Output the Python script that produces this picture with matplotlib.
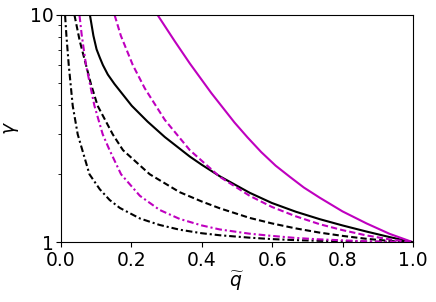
import numpy as np
from matplotlib import pyplot as plt
from matplotlib.ticker import LogLocator, NullFormatter

# curve readings (q tilde, gamma)
q_k_solid = [0.077, 0.082, 0.092, 0.101, 0.11, 0.119, 0.133, 0.152, 0.201, 0.246, 0.295, 0.366, 0.40, 0.451, 0.536, 0.599, 0.667, 0.735, 0.80, 0.868, 0.934, 1.0]
g_k_solid = [11.3, 10.0, 8.09, 7.05, 6.49, 6.01, 5.46, 4.96, 3.98, 3.39, 2.90, 2.38, 2.19, 1.95, 1.65, 1.488, 1.362, 1.263, 1.185, 1.114, 1.053, 1.0]

q_m_solid = [0.25, 0.274, 0.323, 0.366, 0.427, 0.493, 0.53, 0.569, 0.61, 0.65, 0.69, 0.735, 0.80, 0.868, 0.934, 1.0]
g_m_solid = [11.4, 10.0, 7.66, 6.11, 4.53, 3.36, 2.89, 2.49, 2.17, 1.94, 1.74, 1.57, 1.366, 1.21, 1.088, 1.0]

q_k_dash = [0.033, 0.038, 0.053, 0.071, 0.085, 0.104, 0.147, 0.176, 0.252, 0.337, 0.40, 0.451, 0.536, 0.599, 0.667, 0.735, 0.80, 0.868, 0.934, 1.0]
g_k_dash = [10.95, 10.0, 7.69, 6.01, 4.96, 3.98, 2.98, 2.54, 1.99, 1.66, 1.51, 1.41, 1.279, 1.21, 1.15, 1.102, 1.066, 1.035, 1.013, 1.0]

q_m_dash = [0.145, 0.152, 0.17, 0.204, 0.238, 0.295, 0.366, 0.451, 0.536, 0.599, 0.667, 0.735, 0.80, 0.868, 0.934, 1.0]
g_m_dash = [10.9, 10.0, 8.09, 6.01, 4.75, 3.45, 2.54, 1.94, 1.60, 1.43, 1.30, 1.20, 1.13, 1.071, 1.029, 1.0]

q_k_dd = [0.0095, 0.0114, 0.0153, 0.0219, 0.0332, 0.0474, 0.0807, 0.11, 0.138, 0.167, 0.224, 0.280, 0.337, 0.40, 0.451, 0.536, 0.599, 0.667, 0.735, 0.868, 1.0]
g_k_dd = [11.5, 10.0, 8.09, 6.01, 3.98, 2.98, 1.99, 1.71, 1.534, 1.415, 1.272, 1.191, 1.135, 1.095, 1.073, 1.047, 1.032, 1.021, 1.014, 1.005, 1.0]

q_m_dd = [0.048, 0.0523, 0.0588, 0.071, 0.0949, 0.1185, 0.138, 0.1705, 0.224, 0.280, 0.337, 0.40, 0.451, 0.536, 0.599, 0.667, 0.735, 0.868, 1.0]
g_m_dd = [11.5, 10.0, 8.14, 6.01, 3.98, 2.98, 2.54, 1.99, 1.60, 1.387, 1.266, 1.185, 1.138, 1.090, 1.066, 1.044, 1.029, 1.009, 1.0]

plt.rcParams['font.size'] = 13.5
fig = plt.figure(figsize=(4.36, 3.02), dpi=100)
ax = fig.add_axes([0.140, 0.198, 0.807, 0.753])

lw = 1.5
dash = (0, (3.0, 1.5))
dashdot = (0, (3.2, 1.4, 1.0, 1.4))
ax.plot(q_k_solid, g_k_solid, color='k', ls='-', lw=lw)
ax.plot(q_m_solid, g_m_solid, color='m', ls='-', lw=lw)
ax.plot(q_k_dash, g_k_dash, color='k', ls=dash, lw=lw)
ax.plot(q_m_dash, g_m_dash, color='m', ls=dash, lw=lw)
ax.plot(q_k_dd, g_k_dd, color='k', ls=dashdot, lw=lw)
ax.plot(q_m_dd, g_m_dd, color='m', ls=dashdot, lw=lw)

ax.set_yscale('log')
ax.set_xlim(0, 1)
ax.set_ylim(1, 10)
ax.set_xticks([0.0, 0.2, 0.4, 0.6, 0.8, 1.0])
ax.set_xticklabels(['0.0', '0.2', '0.4', '0.6', '0.8', '1.0'])
ax.set_yticks([1, 10])
ax.set_yticklabels(['1', '10'])
ax.yaxis.set_minor_locator(LogLocator(base=10, subs=np.arange(2, 10)))
ax.yaxis.set_minor_formatter(NullFormatter())
ax.tick_params(axis='both', which='major', length=3.5)
ax.tick_params(axis='x', pad=3)
ax.tick_params(axis='y', pad=2)
ax.set_xlabel(r'$\widetilde{q}$', labelpad=0)
ax.set_ylabel(r'$\gamma$', labelpad=6)

fig.savefig('out.png', dpi=100)
